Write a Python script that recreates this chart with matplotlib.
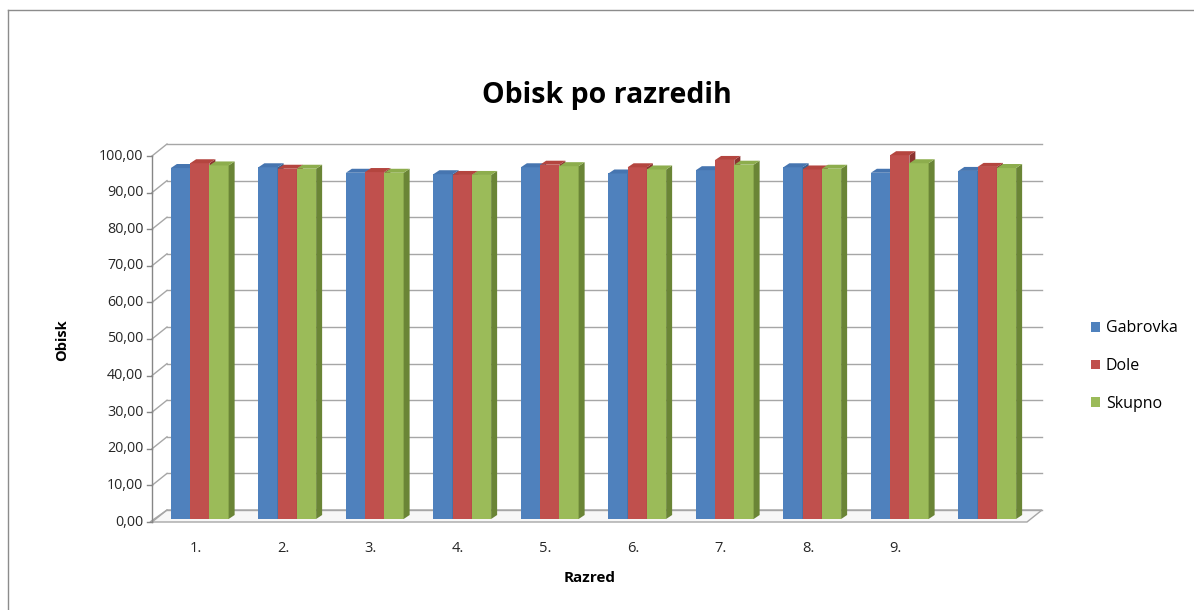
import matplotlib
matplotlib.use("Agg")
import matplotlib.pyplot as plt
import numpy as np
from matplotlib.patches import Polygon, Patch
from matplotlib.lines import Line2D
from matplotlib.transforms import offset_copy, IdentityTransform

# ---- data ----
categories = ["1.", "2.", "3.", "4.", "5.", "6.", "7.", "8.", "9.", ""]
gabrovka = [95.9, 96.1, 94.6, 94.2, 96.1, 94.4, 95.3, 96.1, 94.6, 95.1]
dole     = [97.2, 95.7, 94.8, 94.0, 96.8, 96.1, 98.1, 95.5, 99.4, 96.2]
skupno   = [96.6, 95.7, 94.6, 94.0, 96.4, 95.5, 96.8, 95.7, 97.2, 95.9]
series_names = ["Gabrovka", "Dole", "Skupno"]
yticks = list(range(0, 101, 10))
ytick_labels = [f"{v},00" for v in yticks]

front_cols = ["#4F81BD", "#C0504D", "#9BBB59"]
top_cols = ["#4675B0", "#B4453F", "#8DAD4D"]
side_cols = ["#37608F", "#8C3330", "#6A8536"]

W, H = 1194, 610
fig = plt.figure(figsize=(W / 100, H / 100), dpi=100)
plt.rcParams['font.family'] = ['Open Sans', 'DejaVu Sans']

ax = fig.add_axes([152 / W, 1 - 522 / H, 875 / W, (522 - 156) / H])
ax.set_xlim(0, 10)
ax.set_ylim(0, 100)
ax.axis("off")

# figure border (top and left visible)
fig.add_artist(Line2D([8 / W, 8 / W], [0, 1 - 10 / H], color="#8C8C8C", lw=1, transform=fig.transFigure))
fig.add_artist(Line2D([8 / W, 1], [1 - 10 / H, 1 - 10 / H], color="#8C8C8C", lw=1, transform=fig.transFigure))

BX, BY = 15, 12  # back wall offset in pixels
grid_col = "#A6A6A6"
ID = IdentityTransform()

def disp(x, y):
    return ax.transData.transform((x, y))

fig.canvas.draw()

# floor
p0 = disp(0, 0); p1 = disp(10, 0)
floor = Polygon([p0 + [-2, 0], p1, p1 + [BX, BY], p0 + [BX, BY]], closed=True,
                facecolor="#F7F7F7", edgecolor=grid_col, lw=1, transform=ID, zorder=1,
                clip_on=False)
ax.add_patch(floor)

# back wall gridlines + left wall diagonals
back = offset_copy(ax.transData, fig, x=BX, y=BY, units="dots")
for v, lab in zip(yticks, ytick_labels):
    ax.plot([0, 10], [v, v], color=grid_col, lw=1, transform=back, zorder=1, clip_on=False)
    a = disp(0, v)
    ax.add_line(Line2D([a[0], a[0] + BX], [a[1], a[1] + BY], color=grid_col, lw=1,
                       transform=ID, zorder=1, clip_on=False))
    ax.add_line(Line2D([a[0] - 5, a[0]], [a[1], a[1]], color="#868686", lw=1,
                       transform=ID, zorder=2, clip_on=False))
    ax.text(-0.1, v, lab, ha="right", va="center", fontsize=10.3, color="#262626")
a0 = disp(0, 0); a1 = disp(0, 100)
ax.add_line(Line2D([a0[0], a1[0]], [a0[1], a1[1]], color="#868686", lw=1, transform=ID,
                   zorder=2, clip_on=False))

# bars with pseudo-3D faces
n = len(categories)
x = np.arange(n) + 0.5
bw = 0.22
DX, DY = 4, 3      # bar depth placement offset
TX, TY = 6, 4      # bar depth (top/side) in pixels
bar_tr = offset_copy(ax.transData, fig, x=DX, y=DY, units="dots")
series = [gabrovka, dole, skupno]
for i in range(n):
    for s, vals in enumerate(series):
        xc = x[i] + (s - 1) * bw
        ax.bar(xc, vals[i], width=bw, color=front_cols[s], transform=bar_tr, zorder=3,
               linewidth=0, clip_on=False)
        tl = disp(xc - bw / 2, vals[i]) + [DX, DY]
        tr = disp(xc + bw / 2, vals[i]) + [DX, DY]
        br = disp(xc + bw / 2, 0) + [DX, DY]
        side = Polygon([br, tr, tr + [TX, TY], br + [TX, TY]], closed=True,
                       facecolor=side_cols[s], edgecolor="none", transform=ID, zorder=3,
                       clip_on=False)
        top = Polygon([tl, tr, tr + [TX, TY], tl + [TX, TY]], closed=True,
                      facecolor=top_cols[s], edgecolor="none", transform=ID, zorder=3,
                      clip_on=False)
        ax.add_patch(side)
        ax.add_patch(top)

# category labels
for i, c in enumerate(categories):
    ax.text(x[i], -7.3, c, ha="center", va="center", fontsize=10.5, color="#262626")

# titles
fig.text(607 / W, 1 - 95 / H, "Obisk po razredih", ha="center", va="center",
         fontsize=20.5, fontweight="bold", color="#000000")
fig.text(62 / W, 1 - 340 / H, "Obisk", ha="center", va="center", rotation=90,
         fontsize=10.5, fontweight="bold", color="#000000")
fig.text(590 / W, 1 - 578 / H, "Razred", ha="center", va="center",
         fontsize=11, fontweight="bold", color="#000000")

handles = [Patch(facecolor=c, edgecolor="none") for c in front_cols]
fig.legend(handles, series_names, loc="center left", bbox_to_anchor=(1077 / W, 1 - 366 / H),
           frameon=False, handlelength=0.55, handleheight=0.55, handletextpad=0.35,
           labelspacing=1.35, fontsize=11.5)

fig.savefig("out.png", dpi=100)
